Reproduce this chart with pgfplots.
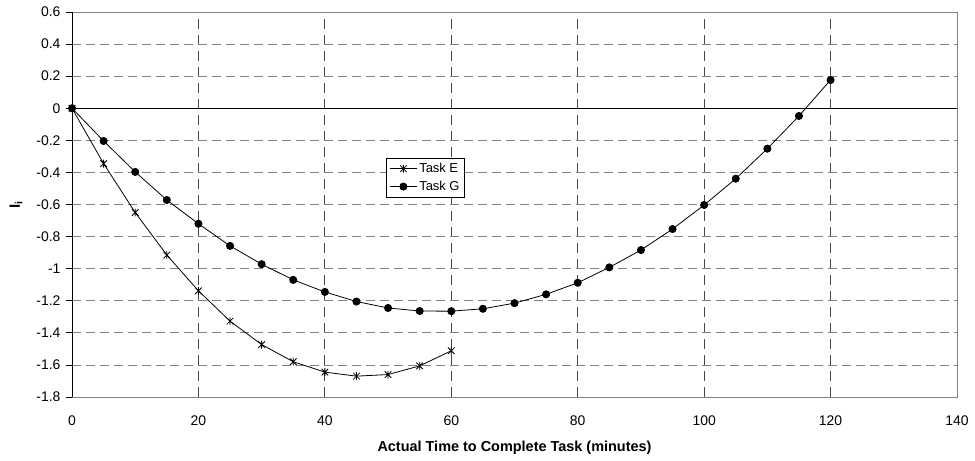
\documentclass[border=0pt]{standalone}
\usepackage{pgfplots}
\pgfplotsset{compat=1.18}
\usepackage{fontspec}
\setmainfont{Liberation Sans}
\pgfdeclareplotmark{xstar}{%
  \pgfpathmoveto{\pgfqpoint{-\pgfplotmarksize}{-\pgfplotmarksize}}%
  \pgfpathlineto{\pgfqpoint{\pgfplotmarksize}{\pgfplotmarksize}}%
  \pgfpathmoveto{\pgfqpoint{-\pgfplotmarksize}{\pgfplotmarksize}}%
  \pgfpathlineto{\pgfqpoint{\pgfplotmarksize}{-\pgfplotmarksize}}%
  \pgfpathmoveto{\pgfqpoint{0pt}{-1.2\pgfplotmarksize}}%
  \pgfpathlineto{\pgfqpoint{0pt}{1.2\pgfplotmarksize}}%
  \pgfusepathqstroke}
\definecolor{gridgray}{RGB}{128,128,128}
\definecolor{vgrid}{RGB}{70,70,70}
\begin{document}
\begin{tikzpicture}
\useasboundingbox (-72bp,-64bp) rectangle (903bp,397bp);
\begin{axis}[
  scale only axis,
  width=885bp, height=385bp,
  xmin=0, xmax=140, ymin=-1.8, ymax=0.6,
  clip=false,
  axis line style={gridgray, line width=0.8pt},
  xtick={0,20,...,140},
  ytick={-1.8,-1.6,-1.4,-1.2,-1,-0.8,-0.6,-0.4,-0.2,0,0.2,0.4,0.6},
  yticklabels={-1.8,-1.6,-1.4,-1.2,-1,-0.8,-0.6,-0.4,-0.2,0,0.2,0.4,0.6},
  xticklabels={0,20,40,60,80,100,120,140},
  xtick style={draw=none},
  ytick pos=left,
  ytick style={black, line width=0.8pt},
  tick align=outside,
  major tick length=6bp,
  ticklabel style={font=\fontsize{14}{16}\selectfont},
  xticklabel style={yshift=-9bp},
  yticklabel style={xshift=-2bp},
  ymajorgrids, xmajorgrids,
  y grid style={gridgray, line width=0.8pt, dash pattern=on 9bp off 5bp},
  x grid style={vgrid, line width=0.8pt, dash pattern=on 10bp off 6bp},
  xlabel={\textbf{Actual Time to Complete Task (minutes)}},
  xlabel style={font=\fontsize{14.5}{16}\selectfont, at={(rel axis cs:0.5,0)}, yshift=-51bp, anchor=center},
  ylabel={\textbf{I}\textsubscript{\textbf{i}}},
  ylabel style={font=\fontsize{15}{16}\selectfont, at={(rel axis cs:0,0.5)}, anchor=center, yshift=56bp},
  legend style={at={(axis cs:49.7,-0.31)}, anchor=north west, draw=black, line width=0.6pt,
    font=\fontsize{13}{15}\selectfont, inner sep=3bp, row sep=3bp, cells={anchor=west}},
  legend image code/.code={\draw[mark repeat=2,mark phase=2] plot coordinates {(0bp,0bp)(13.5bp,0bp)(27bp,0bp)};},
]
\addplot[black, line width=0.8pt, mark=xstar, mark size=3.3bp, mark options={line width=0.8pt}] coordinates {
(0,0) (5,-0.345) (10,-0.65) (15,-0.915) (20,-1.138) (25,-1.327) (30,-1.473) (35,-1.58) (40,-1.645) (45,-1.67) (50,-1.66) (55,-1.606) (60,-1.512)
};
\addlegendentry{Task E}
\addplot[black, line width=0.8pt, mark=*, mark size=3.6bp] coordinates {
(0,0) (5,-0.204) (10,-0.397) (15,-0.572) (20,-0.72) (25,-0.858) (30,-0.972) (35,-1.07) (40,-1.145) (45,-1.205) (50,-1.245) (55,-1.264) (60,-1.265) (65,-1.25) (70,-1.215) (75,-1.16) (80,-1.088) (85,-0.992) (90,-0.884) (95,-0.753) (100,-0.603) (105,-0.439) (110,-0.252) (115,-0.048) (120,0.176)
};
\addlegendentry{Task G}
\draw[black, line width=0.8pt] (rel axis cs:0,0) -- (rel axis cs:0,1);
\draw[black, line width=0.8pt] (axis cs:0,0) -- (axis cs:140,0);
\pgfplotsinvokeforeach{20,40,60,80,100,120,140}{\draw[black, line width=0.8pt] (axis cs:#1,0) ++(0,-4bp) -- ++(0,8bp);}
\end{axis}
\end{tikzpicture}
\end{document}
